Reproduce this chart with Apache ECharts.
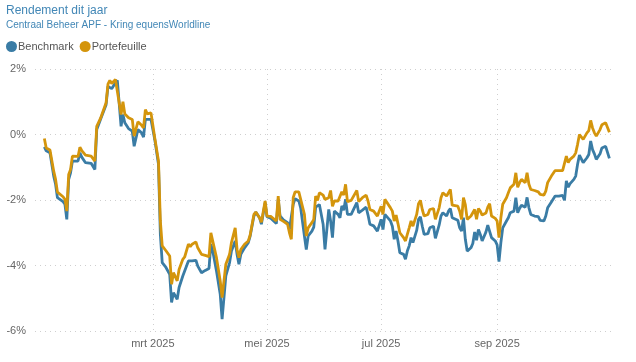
<!DOCTYPE html>
<html>
<head>
<meta charset="utf-8">
<script src="https://cdn.jsdelivr.net/npm/echarts@6/dist/echarts.min.js"></script>
<style>
html,body{margin:0;padding:0;background:#fff;}
#chart{width:636px;height:362px;}
</style>
</head>
<body>
<div id="chart"></div>
<script>
const titleText = 'Rendement dit jaar';
const subtitleText = 'Centraal Beheer APF - Kring equensWorldline';
const seriesNames = ['Benchmark', 'Portefeuille'];
const monthNames = ['jan','feb','mrt','apr','mei','jun','jul','aug','sep','okt','nov','dec'];
const xTickDates = ['2025-03-01','2025-05-01','2025-07-01','2025-09-01'];
const xMin = '2024-12-28';
const xMax = '2025-11-03';
const yTicks = [-6, -4, -2, 0, 2];

const dates = [
'2025-01-02','2025-01-03','2025-01-05','2025-01-07','2025-01-08','2025-01-09','2025-01-12','2025-01-13','2025-01-14','2025-01-15',
'2025-01-16','2025-01-17','2025-01-20','2025-01-21','2025-01-22','2025-01-24','2025-01-27','2025-01-28','2025-01-29','2025-01-30',
'2025-02-01','2025-02-04','2025-02-05','2025-02-06','2025-02-07','2025-02-09','2025-02-10','2025-02-12','2025-02-13','2025-02-14',
'2025-02-16','2025-02-18','2025-02-19','2025-02-20','2025-02-21','2025-02-23','2025-02-24','2025-02-25','2025-02-26','2025-02-28',
'2025-03-02','2025-03-04','2025-03-05','2025-03-06','2025-03-08','2025-03-10','2025-03-11','2025-03-12','2025-03-13','2025-03-14',
'2025-03-15','2025-03-17','2025-03-18','2025-03-20','2025-03-21','2025-03-22','2025-03-24','2025-03-25','2025-03-26','2025-03-27',
'2025-03-29','2025-03-31','2025-04-01','2025-04-02','2025-04-04','2025-04-06','2025-04-07','2025-04-08','2025-04-09','2025-04-11',
'2025-04-12','2025-04-14','2025-04-15','2025-04-16','2025-04-17','2025-04-19','2025-04-21','2025-04-22','2025-04-24','2025-04-25',
'2025-04-27','2025-04-28','2025-04-30','2025-05-01','2025-05-03','2025-05-04','2025-05-06','2025-05-07','2025-05-08','2025-05-10',
'2025-05-12','2025-05-13','2025-05-14','2025-05-15','2025-05-16','2025-05-18','2025-05-19','2025-05-21','2025-05-22','2025-05-23',
'2025-05-25','2025-05-26','2025-05-27','2025-05-28','2025-05-29','2025-05-31','2025-06-01','2025-06-03','2025-06-04','2025-06-05',
'2025-06-06','2025-06-08','2025-06-09','2025-06-10','2025-06-11','2025-06-12','2025-06-13','2025-06-15','2025-06-16','2025-06-18',
'2025-06-19','2025-06-21','2025-06-23','2025-06-24','2025-06-25','2025-06-27','2025-06-29','2025-06-30','2025-07-01','2025-07-02',
'2025-07-03','2025-07-04','2025-07-06','2025-07-07','2025-07-08','2025-07-09','2025-07-10','2025-07-11','2025-07-13','2025-07-14',
'2025-07-15','2025-07-16','2025-07-17','2025-07-18','2025-07-20','2025-07-21','2025-07-22','2025-07-23','2025-07-24','2025-07-26',
'2025-07-27','2025-07-28','2025-07-29','2025-07-30','2025-08-01','2025-08-02','2025-08-03','2025-08-05','2025-08-06','2025-08-07',
'2025-08-08','2025-08-09','2025-08-11','2025-08-12','2025-08-13','2025-08-14','2025-08-15','2025-08-16','2025-08-18','2025-08-19',
'2025-08-20','2025-08-21','2025-08-22','2025-08-23','2025-08-24','2025-08-26','2025-08-27','2025-08-28','2025-08-29','2025-08-31',
'2025-09-01','2025-09-02','2025-09-03','2025-09-04','2025-09-06','2025-09-07','2025-09-08','2025-09-09','2025-09-10','2025-09-11',
'2025-09-12','2025-09-13','2025-09-14','2025-09-15','2025-09-16','2025-09-17','2025-09-18','2025-09-19','2025-09-21','2025-09-23',
'2025-09-24','2025-09-25','2025-09-26','2025-09-27','2025-09-28','2025-09-30','2025-10-01','2025-10-02','2025-10-04','2025-10-06',
'2025-10-07','2025-10-08','2025-10-09','2025-10-10','2025-10-12','2025-10-13','2025-10-14','2025-10-15','2025-10-16','2025-10-17',
'2025-10-19','2025-10-20','2025-10-21','2025-10-22','2025-10-23','2025-10-24','2025-10-26','2025-10-27','2025-10-28','2025-10-29',
'2025-10-30','2025-10-31'
];

const benchmark = [
-0.38,-0.50,-0.56,-1.27,-1.52,-1.93,-2.05,-2.13,-2.59,-1.37,
-1.17,-0.81,-0.81,-0.56,-0.69,-0.86,-0.88,-0.88,-1.07,0.15,
0.46,0.91,1.47,1.45,1.40,1.58,1.65,0.25,0.61,0.36,
0.18,0.10,-0.36,-0.30,0.15,0.05,-0.08,0.46,0.51,0.46,
-0.15,-0.91,-3.05,-3.91,-4.06,-4.27,-5.13,-4.83,-4.86,-5.03,
-4.67,-4.32,-4.29,-3.86,-3.91,-3.86,-3.84,-4.02,-3.99,-4.22,
-4.15,-4.09,-3.35,-3.56,-4.17,-4.88,-5.64,-4.98,-4.32,-3.91,
-3.56,-3.25,-3.66,-3.96,-3.66,-3.46,-3.30,-3.10,-2.49,-2.37,
-2.54,-2.74,-2.08,-2.51,-2.56,-2.59,-2.72,-1.98,-2.49,-2.62,
-2.69,-2.90,-2.95,-2.13,-1.96,-2.03,-2.24,-3.10,-3.51,-3.10,
-2.95,-2.83,-2.22,-2.18,-2.14,-2.74,-3.51,-2.29,-2.64,-3.15,
-2.34,-2.44,-2.54,-2.18,-2.31,-1.98,-2.44,-2.44,-2.42,-2.08,
-2.39,-2.31,-2.22,-2.46,-2.74,-2.79,-2.95,-2.90,-2.59,-2.90,
-2.44,-2.42,-2.64,-2.80,-3.20,-2.95,-3.25,-3.61,-3.66,-3.81,
-3.56,-3.40,-3.15,-3.30,-2.93,-2.59,-2.51,-2.80,-3.05,-3.03,
-2.85,-2.90,-2.80,-3.17,-2.77,-2.49,-2.39,-2.49,-2.34,-2.26,
-2.54,-2.56,-2.62,-2.85,-2.95,-2.54,-3.20,-3.56,-3.46,-3.33,
-2.98,-3.23,-2.90,-3.05,-3.25,-2.98,-2.77,-2.80,-3.15,-3.25,
-3.37,-3.88,-3.30,-2.85,-2.64,-2.54,-2.39,-2.44,-2.34,-1.93,
-2.39,-2.26,-2.16,-2.12,-2.22,-1.92,-2.24,-2.44,-2.49,-2.51,
-2.62,-2.56,-2.64,-2.49,-2.24,-2.06,-2.12,-1.88,-1.88,-1.86,
-2.01,-1.42,-1.61,-1.50,-1.37,-1.27,-0.91,-0.63,-0.66,-0.86,
-0.71,-0.61,-0.20,-0.46,-0.59,-0.76,-0.59,-0.41,-0.46,-0.36,
-0.39,-0.73
];

const portefeuille = [
-0.12,-0.41,-0.47,-1.12,-1.37,-1.76,-1.90,-1.98,-2.34,-1.22,
-1.07,-0.66,-0.67,-0.39,-0.49,-0.63,-0.66,-0.63,-0.81,0.25,
0.49,0.97,1.54,1.65,1.56,1.68,1.73,0.61,1.00,0.63,
0.51,0.46,-0.05,-0.02,0.39,0.28,0.20,0.76,0.63,0.66,
-0.10,-0.81,-2.64,-3.40,-3.55,-3.71,-4.57,-4.22,-4.27,-4.47,
-4.12,-3.81,-3.74,-3.35,-3.42,-3.35,-3.28,-3.46,-3.48,-3.66,
-3.69,-3.73,-3.00,-3.25,-3.76,-4.47,-4.98,-4.47,-3.96,-3.66,
-3.30,-2.85,-3.51,-3.76,-3.51,-3.35,-3.25,-3.07,-2.44,-2.37,
-2.54,-2.68,-2.03,-2.49,-2.50,-2.54,-2.64,-1.88,-2.59,-2.66,
-2.74,-3.00,-3.20,-1.93,-1.75,-1.75,-1.78,-2.44,-3.10,-2.85,
-2.69,-2.59,-1.88,-2.01,-1.78,-1.85,-1.98,-1.93,-1.71,-2.19,
-2.03,-2.03,-2.05,-1.75,-1.85,-1.52,-2.05,-2.01,-2.01,-1.71,
-2.05,-1.93,-1.85,-2.03,-2.29,-2.34,-2.49,-2.54,-2.19,-2.44,
-1.98,-1.98,-2.24,-2.34,-2.64,-2.46,-2.72,-3.00,-3.15,-3.25,
-3.05,-2.85,-2.64,-2.80,-2.44,-2.11,-2.01,-2.29,-2.49,-2.44,
-2.29,-2.34,-2.26,-2.59,-2.24,-1.93,-1.78,-1.88,-1.78,-1.68,
-2.16,-2.16,-2.19,-2.34,-2.59,-1.93,-2.14,-2.59,-2.49,-2.39,
-2.29,-2.59,-2.26,-2.34,-2.46,-2.40,-2.22,-2.11,-2.49,-2.56,
-2.64,-3.15,-2.54,-2.13,-1.93,-1.78,-1.63,-1.61,-1.52,-1.17,
-1.61,-1.47,-1.37,-1.32,-1.47,-1.17,-1.52,-1.68,-1.71,-1.75,
-1.83,-1.78,-1.85,-1.73,-1.47,-1.27,-1.32,-1.10,-1.10,-1.10,
-1.13,-0.66,-0.86,-0.76,-0.66,-0.56,-0.30,0.00,-0.05,-0.15,
0.05,0.12,0.43,0.20,0.05,-0.05,0.15,0.30,0.25,0.36,
0.33,0.07
];

const colors = ['#3a7ca5', '#d4950c'];
const FONT = '"Liberation Sans", Arial, sans-serif';
const toTs = s => Date.parse(s + 'T00:00:00Z');

const chart = echarts.init(document.getElementById('chart'), null, {renderer: 'canvas'});
chart.setOption({
  animation: false,
  color: colors,
  textStyle: {fontFamily: FONT},
  title: {
    text: titleText,
    subtext: subtitleText,
    left: 1,
    top: 0,
    itemGap: 3,
    textStyle: {fontSize: 12, fontWeight: 'normal', color: '#4287b6', fontFamily: FONT},
    subtextStyle: {fontSize: 10, color: '#4287b6', fontFamily: FONT}
  },
  legend: {
    left: 1,
    top: 36,
    icon: 'circle',
    itemWidth: 11,
    itemHeight: 11,
    itemGap: 6,
    textStyle: {fontSize: 11, color: '#555', padding: [0, 0, 0, -4], fontFamily: FONT},
    data: seriesNames
  },
  grid: {left: 35, right: 21, top: 69, bottom: 31, containLabel: false},
  xAxis: {
    type: 'value',
    min: toTs(xMin),
    max: toTs(xMax),
    axisLine: {show: false},
    axisTick: {show: false, customValues: xTickDates.map(toTs)},
    axisLabel: {
      customValues: xTickDates.map(toTs),
      fontSize: 11,
      color: '#666',
      margin: 7,
      formatter: function (v) {
        const d = new Date(v);
        return monthNames[d.getUTCMonth()] + ' ' + d.getUTCFullYear();
      }
    },
    splitLine: {show: true, lineStyle: {type: [1, 4], color: '#cfcfcf', width: 1}}
  },
  yAxis: {
    type: 'value',
    min: yTicks[0],
    max: yTicks[yTicks.length - 1],
    interval: 2,
    axisLine: {show: false},
    axisTick: {show: false},
    axisLabel: {
      fontSize: 11,
      color: '#666',
      margin: 9,
      formatter: function (v) { return v + '%'; }
    },
    splitLine: {show: true, lineStyle: {type: [1, 4], color: '#cfcfcf', width: 1}}
  },
  series: [
    {
      name: seriesNames[0],
      type: 'line',
      showSymbol: false,
      symbol: 'none',
      lineStyle: {width: 2.8, color: colors[0]},
      data: dates.map((d, i) => [toTs(d), benchmark[i]])
    },
    {
      name: seriesNames[1],
      type: 'line',
      showSymbol: false,
      symbol: 'none',
      lineStyle: {width: 2.8, color: colors[1]},
      data: dates.map((d, i) => [toTs(d), portefeuille[i]])
    }
  ]
});
</script>
</body>
</html>
